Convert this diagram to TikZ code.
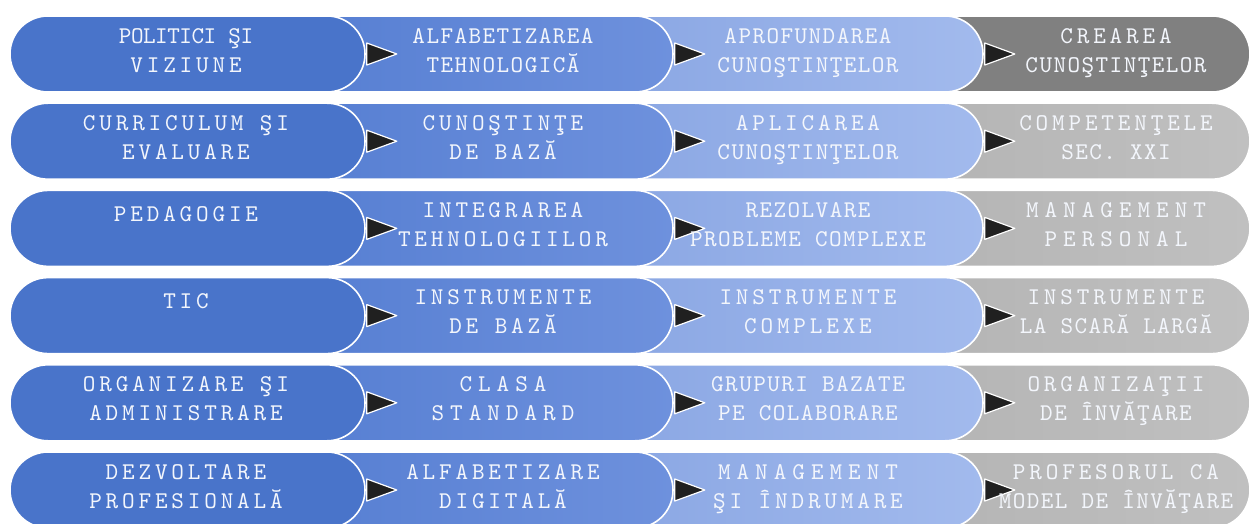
\documentclass[tikz,border=0pt]{standalone}
\usepackage{fontspec}
\newfontfamily\lblw{lmmono10-regular.otf}[LetterSpace=16]
\newfontfamily\lblt{lmmono10-regular.otf}[LetterSpace=6]
\newfontfamily\lbls{lmmono10-regular.otf}[LetterSpace=-2]
\newfontfamily\lblx{lmmono10-regular.otf}[LetterSpace=25]
\usetikzlibrary{shapes.misc}
\definecolor{colA}{RGB}{73,116,202}
\definecolor{colBl}{RGB}{88,128,211}
\definecolor{colBr}{RGB}{110,145,221}
\definecolor{colCl}{RGB}{140,168,228}
\definecolor{colCr}{RGB}{162,186,237}
\definecolor{colDk}{RGB}{128,128,128}
\definecolor{colDl}{RGB}{181,181,181}
\definecolor{colDr}{RGB}{192,192,192}
\definecolor{tipcol}{RGB}{32,32,32}
\definecolor{lbltxt}{RGB}{243,246,252}

\begin{document}
\begin{tikzpicture}[x=1pt, y=1pt,
	seg/.style={rounded rectangle, rounded rectangle left arc=none, draw=white, line width=1.6pt, minimum height=76pt, inner sep=0pt},
	segA/.style={seg, rounded rectangle left arc=convex, fill=colA, minimum width=355pt},
	segB/.style={seg, left color=colBl, right color=colBr, minimum width=343pt},
	segC/.style={seg, left color=colCl, right color=colCr, minimum width=343pt},
	segD/.style={seg, left color=colDl, right color=colDr, minimum width=305pt},
	dark/.style={left color=colDk, right color=colDk},
	tri/.style={fill=tipcol, draw=white, line width=1.2pt, line join=round},
	lbl/.style={anchor=north, inner sep=0pt, align=center, text=lbltxt, font=\fontsize{24}{29}\selectfont\lblw, execute at begin node=\rule{0pt}{19pt}},
	tight/.style={lbl, font=\fontsize{24}{29}\selectfont\lblt},
	wider/.style={lbl, font=\fontsize{24}{29}\selectfont\lblx}]
	
	\useasboundingbox (0,0) rectangle (1252,523);
	
	\node[segD, dark] (D1) at (1097.5,469) {};
	\node[segC] (C1) at (811.5,469) {};
	\node[segB] (B1) at (501.5,469) {};
	\node[segA] (A1) at (187.5,469) {};
	\draw[tri] (A1.east) ++(1,11) -- ++(30,-11) -- ++(-30,-11) -- cycle;
	\draw[tri] (B1.east) ++(1,11) -- ++(30,-11) -- ++(-30,-11) -- cycle;
	\draw[tri] (C1.east) ++(1,11) -- ++(30,-11) -- ++(-30,-11) -- cycle;
	\node[lbl] (a1) at (186,495) {{\lbls POLITICI ŞI}\\VIZIUNE};
	\node[tight] (b1) at (503,495) {ALFABETIZAREA\\TEHNOLOGICĂ};
	\node[tight] (c1) at (808,495) {APROFUNDAREA\\CUNOŞTINŢELOR};
	\node[lbl] (d1) at (1116,495) {CREAREA\\{\lblt CUNOŞTINŢELOR}};
	
	\node[segD] (D2) at (1097.5,381.8) {};
	\node[segC] (C2) at (811.5,381.8) {};
	\node[segB] (B2) at (501.5,381.8) {};
	\node[segA] (A2) at (187.5,381.8) {};
	\draw[tri] (A2.east) ++(1,11) -- ++(30,-11) -- ++(-30,-11) -- cycle;
	\draw[tri] (B2.east) ++(1,11) -- ++(30,-11) -- ++(-30,-11) -- cycle;
	\draw[tri] (C2.east) ++(1,11) -- ++(30,-11) -- ++(-30,-11) -- cycle;
	\node[lbl] (a2) at (186,407.8) {CURRICULUM ŞI\\EVALUARE};
	\node[lbl] (b2) at (503,407.8) {CUNOŞTINŢE\\DE BAZĂ};
	\node[lbl] (c2) at (808,407.8) {APLICAREA\\{\lblt CUNOŞTINŢELOR}};
	\node[lbl] (d2) at (1116,407.8) {COMPETENŢELE\\{\lblt SEC. XXI}};
	
	\node[segD] (D3) at (1097.5,294.6) {};
	\node[segC] (C3) at (811.5,294.6) {};
	\node[segB] (B3) at (501.5,294.6) {};
	\node[segA] (A3) at (187.5,294.6) {};
	\draw[tri] (A3.east) ++(1,11) -- ++(30,-11) -- ++(-30,-11) -- cycle;
	\draw[tri] (B3.east) ++(1,11) -- ++(30,-11) -- ++(-30,-11) -- cycle;
	\draw[tri] (C3.east) ++(1,11) -- ++(30,-11) -- ++(-30,-11) -- cycle;
	\node[lbl] (a3) at (186,320.6) {PEDAGOGIE};
	\node[lbl] (b3) at (503,320.6) {INTEGRAREA\\TEHNOLOGIILOR};
	\node[tight] (c3) at (808,320.6) {REZOLVARE\\PROBLEME COMPLEXE};
	\node[wider] (d3) at (1116,320.6) {MANAGEMENT\\PERSONAL};
	
	\node[segD] (D4) at (1097.5,207.4) {};
	\node[segC] (C4) at (811.5,207.4) {};
	\node[segB] (B4) at (501.5,207.4) {};
	\node[segA] (A4) at (187.5,207.4) {};
	\draw[tri] (A4.east) ++(1,11) -- ++(30,-11) -- ++(-30,-11) -- cycle;
	\draw[tri] (B4.east) ++(1,11) -- ++(30,-11) -- ++(-30,-11) -- cycle;
	\draw[tri] (C4.east) ++(1,11) -- ++(30,-11) -- ++(-30,-11) -- cycle;
	\node[lbl] (a4) at (186,233.4) {TIC};
	\node[lbl] (b4) at (503,233.4) {INSTRUMENTE\\DE BAZĂ};
	\node[lbl] (c4) at (808,233.4) {INSTRUMENTE\\COMPLEXE};
	\node[lbl] (d4) at (1116,233.4) {INSTRUMENTE\\{\lblt LA SCARĂ LARGĂ}};
	
	\node[segD] (D5) at (1097.5,120.2) {};
	\node[segC] (C5) at (811.5,120.2) {};
	\node[segB] (B5) at (501.5,120.2) {};
	\node[segA] (A5) at (187.5,120.2) {};
	\draw[tri] (A5.east) ++(1,11) -- ++(30,-11) -- ++(-30,-11) -- cycle;
	\draw[tri] (B5.east) ++(1,11) -- ++(30,-11) -- ++(-30,-11) -- cycle;
	\draw[tri] (C5.east) ++(1,11) -- ++(30,-11) -- ++(-30,-11) -- cycle;
	\node[lbl] (a5) at (186,146.2) {ORGANIZARE ŞI\\ADMINISTRARE};
	\node[wider] (b5) at (503,146.2) {CLASA\\STANDARD};
	\node[tight] (c5) at (808,146.2) {GRUPURI BAZATE\\PE COLABORARE};
	\node[lbl] (d5) at (1116,146.2) {ORGANIZAŢII\\{\lblt DE ÎNVĂŢARE}};
	
	\node[segD] (D6) at (1097.5,33) {};
	\node[segC] (C6) at (811.5,33) {};
	\node[segB] (B6) at (501.5,33) {};
	\node[segA] (A6) at (187.5,33) {};
	\draw[tri] (A6.east) ++(1,11) -- ++(30,-11) -- ++(-30,-11) -- cycle;
	\draw[tri] (B6.east) ++(1,11) -- ++(30,-11) -- ++(-30,-11) -- cycle;
	\draw[tri] (C6.east) ++(1,11) -- ++(30,-11) -- ++(-30,-11) -- cycle;
	\node[lbl] (a6) at (186,59) {DEZVOLTARE\\PROFESIONALĂ};
	\node[lbl] (b6) at (503,59) {ALFABETIZARE\\DIGITALĂ};
	\node[lbl] (c6) at (808,59) {{\lblx MANAGEMENT}\\ŞI ÎNDRUMARE};
	\node[lbl] (d6) at (1116,59) {PROFESORUL CA\\{\lblt MODEL DE ÎNVĂŢARE}};
\end{tikzpicture}
\end{document}
